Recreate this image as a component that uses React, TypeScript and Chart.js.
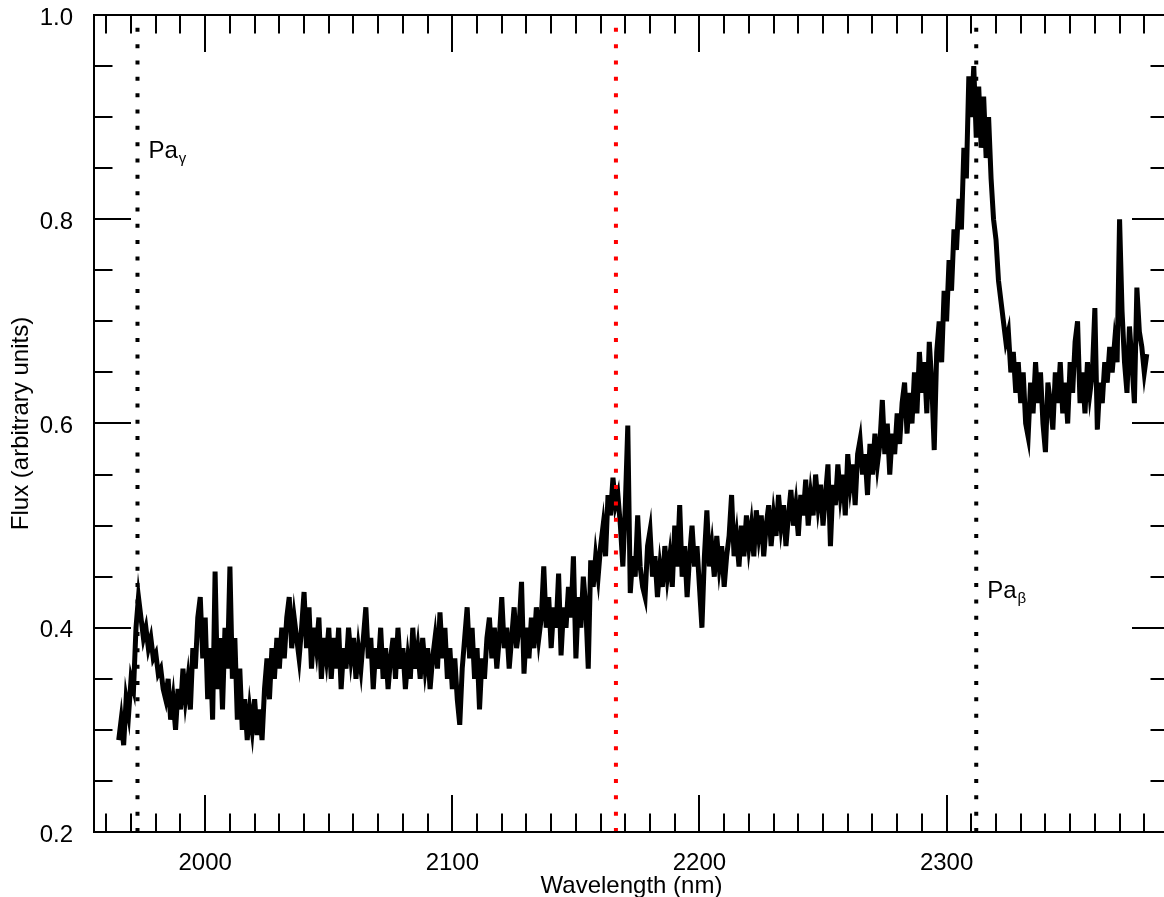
import React, { useEffect, useRef } from "react";
import { Chart, registerables } from "chart.js";

Chart.register(...registerables);

// ---- data ----
const WL_START = 1965; // nm, first sample
const WL_STEP = 1; // nm per sample

// 1965–2074 nm
const FLUX_A = [
  0.29, 0.31, 0.285, 0.33, 0.315, 0.35, 0.34, 0.40, 0.43, 0.41,
  0.39, 0.40, 0.38, 0.39, 0.37, 0.375, 0.355, 0.36, 0.34, 0.33,
  0.35, 0.31, 0.33, 0.30, 0.34, 0.32, 0.36, 0.33, 0.35, 0.32,
  0.38, 0.36, 0.41, 0.43, 0.37, 0.41, 0.33, 0.38, 0.31, 0.455,
  0.34, 0.39, 0.32, 0.40, 0.36, 0.46, 0.35, 0.39, 0.31, 0.36,
  0.30, 0.33, 0.29, 0.32, 0.30, 0.33, 0.295, 0.32, 0.29, 0.34,
  0.37, 0.33, 0.38, 0.35, 0.39, 0.36, 0.40, 0.37, 0.41, 0.43,
  0.38, 0.41, 0.39, 0.37, 0.40, 0.435, 0.38, 0.42, 0.36, 0.40,
  0.38, 0.41, 0.35, 0.39, 0.37, 0.40, 0.35, 0.39, 0.36, 0.40,
  0.34, 0.38, 0.36, 0.40, 0.37, 0.39, 0.35, 0.38, 0.36, 0.39,
  0.42, 0.37, 0.39, 0.34, 0.38, 0.36, 0.40, 0.35, 0.38, 0.34,
];
// 2075–2160 nm
const FLUX_B = [
  0.37, 0.39, 0.35, 0.40, 0.36, 0.38, 0.34, 0.37, 0.35, 0.40,
  0.36, 0.38, 0.35, 0.39, 0.36, 0.38, 0.34, 0.37, 0.39, 0.36,
  0.415, 0.37, 0.40, 0.35, 0.38, 0.34, 0.37, 0.33, 0.305, 0.36,
  0.39, 0.42, 0.37, 0.40, 0.35, 0.38, 0.32, 0.37, 0.35, 0.39,
  0.41, 0.37, 0.40, 0.36, 0.39, 0.43, 0.38, 0.40, 0.36, 0.39,
  0.42, 0.38, 0.40, 0.445, 0.355, 0.40, 0.37, 0.41, 0.38, 0.42,
  0.39, 0.41, 0.46, 0.40, 0.43, 0.38, 0.42, 0.40, 0.453, 0.373,
  0.42, 0.40, 0.44, 0.41, 0.47, 0.37, 0.43, 0.40, 0.45, 0.42,
  0.36, 0.466, 0.44, 0.47, 0.45, 0.48,
];
// 2161–2220 nm
const FLUX_C = [
  0.50, 0.47, 0.53, 0.51, 0.547, 0.52, 0.53, 0.50, 0.46, 0.52,
  0.598, 0.434, 0.47, 0.45, 0.51, 0.46, 0.44, 0.43, 0.48, 0.495,
  0.45, 0.47, 0.43, 0.46, 0.44, 0.48, 0.45, 0.47, 0.44, 0.50,
  0.46, 0.52, 0.45, 0.48, 0.43, 0.47, 0.50, 0.46, 0.48, 0.44,
  0.40, 0.47, 0.515, 0.46, 0.48, 0.45, 0.49, 0.46, 0.48, 0.44,
  0.47, 0.49, 0.53, 0.47, 0.49, 0.46, 0.50, 0.47, 0.51, 0.48,
];
// 2221–2330 nm
const FLUX_D = [
  0.50, 0.47, 0.515, 0.49, 0.51, 0.47, 0.50, 0.52, 0.48, 0.51,
  0.49, 0.53, 0.50, 0.52, 0.48, 0.51, 0.535, 0.50, 0.52, 0.49,
  0.53, 0.51, 0.545, 0.50, 0.53, 0.51, 0.55, 0.52, 0.54, 0.50,
  0.53, 0.56, 0.48, 0.54, 0.52, 0.56, 0.53, 0.55, 0.51, 0.57,
  0.54, 0.56, 0.52, 0.57, 0.584, 0.55, 0.57, 0.53, 0.58, 0.55,
  0.59, 0.56, 0.58, 0.623, 0.57, 0.60, 0.55, 0.59, 0.57, 0.61,
  0.58, 0.62, 0.64, 0.59, 0.63, 0.60, 0.65, 0.61, 0.67, 0.63,
  0.66, 0.61, 0.68, 0.64, 0.574, 0.67, 0.70, 0.66, 0.73, 0.70,
  0.76, 0.73, 0.79, 0.77, 0.82, 0.79, 0.87, 0.84, 0.94, 0.90,
  0.95, 0.88, 0.93, 0.87, 0.92, 0.86, 0.90, 0.84, 0.80, 0.78,
  0.74, 0.72, 0.70, 0.68, 0.69, 0.65, 0.67, 0.63, 0.66, 0.62,
];
// 2331–2381 nm
const FLUX_E = [
  0.65, 0.60, 0.587, 0.64, 0.61, 0.66, 0.62, 0.65, 0.60, 0.572,
  0.64, 0.62, 0.594, 0.65, 0.62, 0.66, 0.61, 0.64, 0.60, 0.66,
  0.63, 0.68, 0.70, 0.62, 0.65, 0.61, 0.66, 0.63, 0.65, 0.713,
  0.594, 0.64, 0.62, 0.66, 0.64, 0.675, 0.65, 0.68, 0.66, 0.80,
  0.71, 0.66, 0.63, 0.695, 0.66, 0.62, 0.733, 0.69, 0.675, 0.65,
  0.668,
];

const FLUX = [...FLUX_A, ...FLUX_B, ...FLUX_C, ...FLUX_D, ...FLUX_E];

// spectral line markers (nm)
const LINE_NAMES = ["Pa", "Brγ", "Pa"];
const LINE_SUBS = ["γ", "", "β"];
const LINE_WL = [1972.6, 2166.2, 2312.0];
const LINE_LABEL_FLUX = [0.86, null, 0.429];

// axes
const X_MIN = 1955;
const X_MAX = 2390;
const Y_MIN = 0.2;
const Y_MAX = 1.0;
const X_MAJOR = [2000, 2100, 2200, 2300];
const Y_MAJOR = [0.2, 0.4, 0.6, 0.8, 1.0];

// ---- styles ----
const FONT_FAMILY = '"Liberation Sans", Arial, Helvetica, sans-serif';
const LINE_COLORS = ["#000000", "#ff0000", "#000000"];

const framePlugin = {
  id: "idlFrame",
  afterDatasetsDraw(chart: any) {
    const { ctx, chartArea: a, scales } = chart;
    const xs = scales.x;
    const ys = scales.y;
    ctx.save();

    // dotted marker lines
    LINE_WL.forEach((wl, i) => {
      const px = xs.getPixelForValue(wl);
      ctx.strokeStyle = LINE_COLORS[i];
      ctx.lineWidth = 4;
      ctx.lineCap = "butt";
      ctx.setLineDash([4, 12.33]);
      ctx.beginPath();
      ctx.moveTo(px, a.bottom);
      ctx.lineTo(px, a.top);
      ctx.stroke();
    });
    ctx.setLineDash([]);

    // labels
    ctx.fillStyle = "#000";
    ctx.textBaseline = "alphabetic";
    ctx.textAlign = "left";
    LINE_WL.forEach((wl, i) => {
      const f = LINE_LABEL_FLUX[i];
      if (f == null) return;
      const px = xs.getPixelForValue(wl) + 11;
      const py = ys.getPixelForValue(f);
      ctx.font = `24px ${FONT_FAMILY}`;
      ctx.fillText(LINE_NAMES[i], px, py);
      const w = ctx.measureText(LINE_NAMES[i]).width;
      ctx.font = `15px ${FONT_FAMILY}`;
      ctx.fillText(LINE_SUBS[i], px + w + 1, py + 5);
    });

    // frame
    ctx.strokeStyle = "#000";
    ctx.lineWidth = 2;
    ctx.strokeRect(a.left, a.top, a.right - a.left, a.bottom - a.top);

    // x ticks (inward, bottom & top)
    ctx.lineWidth = 2;
    ctx.beginPath();
    for (let v = 1960; v <= X_MAX; v += 10) {
      const px = Math.round(xs.getPixelForValue(v));
      const len = v % 100 === 0 ? 37 : 18.5;
      ctx.moveTo(px, a.bottom);
      ctx.lineTo(px, a.bottom - len);
      ctx.moveTo(px, a.top);
      ctx.lineTo(px, a.top + len);
    }
    // y ticks (inward, left & right)
    for (let k = 0; k <= 16; k++) {
      const v = Y_MIN + k * 0.05;
      const py = Math.round(ys.getPixelForValue(v));
      const len = k % 4 === 0 ? 37 : 18.5;
      ctx.moveTo(a.left, py);
      ctx.lineTo(a.left + len, py);
      ctx.moveTo(a.right, py);
      ctx.lineTo(a.right - len, py);
    }
    ctx.stroke();
    ctx.restore();
  },
};

export default function App() {
  const canvasRef = useRef<HTMLCanvasElement | null>(null);

  useEffect(() => {
    const canvas = canvasRef.current;
    if (!canvas) return;
    const points = FLUX.map((f, i) => ({ x: WL_START + i * WL_STEP, y: f }));
    const chart = new Chart(canvas, {
      type: "line",
      data: {
        datasets: [
          {
            data: points,
            borderColor: "#000000",
            borderWidth: 5,
            pointRadius: 0,
            tension: 0,
            fill: false,
          },
        ],
      },
      options: {
        animation: false,
        responsive: false,
        maintainAspectRatio: false,
        devicePixelRatio: 1,
        layout: { padding: { top: 15, right: 11, left: 0, bottom: 0 } },
        plugins: {
          legend: { display: false },
          tooltip: { enabled: false },
        },
        scales: {
          x: {
            type: "linear",
            min: X_MIN,
            max: X_MAX,
            grid: { display: false },
            border: { display: false },
            afterBuildTicks: (scale: any) => {
              scale.ticks = X_MAJOR.map((v) => ({ value: v }));
            },
            afterFit: (scale: any) => {
              scale.height = 73;
              scale.paddingLeft = 0;
              scale.paddingRight = 0;
            },
            ticks: {
              color: "#000",
              padding: 9,
              maxRotation: 0,
              font: { family: FONT_FAMILY, size: 24 },
              callback: (v: any) => String(v),
            },
            title: {
              display: true,
              text: "Wavelength (nm)",
              color: "#000",
              font: { family: FONT_FAMILY, size: 24 },
              padding: { top: 0, bottom: 4 },
            },
          },
          y: {
            type: "linear",
            min: Y_MIN,
            max: Y_MAX,
            grid: { display: false },
            border: { display: false },
            afterBuildTicks: (scale: any) => {
              scale.ticks = Y_MAJOR.map((v) => ({ value: v }));
            },
            afterFit: (scale: any) => {
              scale.width = 94;
              scale.paddingTop = 0;
              scale.paddingBottom = 0;
            },
            ticks: {
              color: "#000",
              padding: 13,
              labelOffset: 3,
              font: { family: FONT_FAMILY, size: 24 },
              callback: (v: any) => Number(v).toFixed(1),
            },
            title: {
              display: true,
              text: "Flux (arbitrary units)",
              color: "#000",
              font: { family: FONT_FAMILY, size: 24 },
              padding: { top: 7, bottom: 0 },
            },
          },
        },
      },
      plugins: [framePlugin],
    });
    return () => chart.destroy();
  }, []);

  return (
    <div
      style={{
        position: "fixed",
        left: 0,
        top: 0,
        width: 1164,
        height: 897,
        overflow: "hidden",
        background: "#ffffff",
      }}
    >
      <canvas
        ref={canvasRef}
        width={1180}
        height={905}
        style={{ display: "block", width: 1180, height: 905 }}
      />
    </div>
  );
}
